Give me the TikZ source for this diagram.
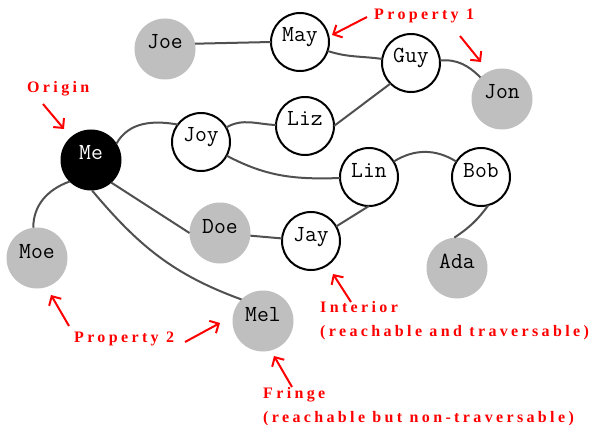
\documentclass[tikz,border=0pt]{standalone}
\usepackage{fontspec}
\usetikzlibrary{arrows.meta}
\newfontfamily\notefont[LetterSpace=21]{Liberation Serif}
\definecolor{fringegray}{RGB}{191,191,191}
\definecolor{linkgray}{RGB}{80,80,80}
\definecolor{notered}{RGB}{255,0,0}
\begin{document}
\begin{tikzpicture}[x=1pt,y=-1pt,
  person/.style={circle, inner sep=0pt, outer sep=0pt,
    text height=7pt, text depth=7pt,
    font=\ttfamily\fontsize{23}{23}\selectfont},
  interior/.style={person, draw=black, line width=2pt, fill=white, minimum size=58pt},
  fringe/.style={person, fill=fringegray, minimum size=61pt},
  origin/.style={person, fill=black, text=white, minimum size=61pt},
  link/.style={draw=linkgray, line width=2pt},
  note/.style={text=notered, font=\notefont\bfseries\fontsize{16}{24}\selectfont,
    align=left, inner sep=0pt, anchor=base west},
  pointer/.style={draw=notered, line width=2pt,
    -{Straight Barb[length=7pt,width=14pt]}}
]
\useasboundingbox (0,0) rectangle (589,425);

% people
\node[fringe]   (joe) at (165,49)  {Joe};
\node[interior] (may) at (300,42)  {May};
\node[interior] (guy) at (411,63)  {Guy};
\node[fringe]   (jon) at (502,99)  {Jon};
\node[origin]   (me)  at (91,160)  {Me};
\node[interior] (joy) at (201,142) {Joy};
\node[interior] (liz) at (305,126) {Liz};
\node[interior] (lin) at (369,177) {Lin};
\node[interior] (bob) at (481,177) {Bob};
\node[fringe]   (doe) at (220,233) {Doe};
\node[interior] (jay) at (311,241) {Jay};
\node[fringe]   (moe) at (37,258)  {Moe};
\node[fringe]   (ada) at (457,268) {Ada};
\node[fringe]   (mel) at (263,321) {Mel};

% links
\draw[link] (joe.10) -- (may.west);
\draw[link] (may) to[out=-18, in=172] (guy);
\draw[link] (guy) to[out=5, in=135] (jon);
\draw[link] (liz.east) -- (guy.225);
\draw[link] (me.33) to[out=60, in=170] (joy.143);
\draw[link] (joy) to[out=30, in=178] (liz);
\draw[link] (joy) to[out=-28, in=182] (lin);
\draw[link] (lin) to[out=32, in=148] (bob);
\draw[link] (bob.-75) to[bend left=10] (ada.95);
\draw[link] (lin.south) -- (jay.30);
\draw[link] (doe) -- (jay);
\draw[link] (me.-48) -- (doe.west);
\draw[link] (me.-88) to[out=-50, in=160] (mel.135);
\draw[link] (me.-135) to[out=200, in=90] (moe.97);

% annotations
\node[note] (origin)   at (27,93)  {Origin};
\node[note] (prop1)    at (374,20) {Property 1};
\node[note] (prop2)    at (74,342) {Property 2};
\node[note] (interior) at (320,336) {Interior\\(reachable and traversable)};
\node[note] (fringelb) at (263,422) {Fringe\\(reachable but non-traversable)};

\coordinate (o1) at (43,104);   \coordinate (o2) at (64,129);
\coordinate (a1) at (367,17);   \coordinate (a2) at (332,35);
\coordinate (b1) at (460,36);   \coordinate (b2) at (481,62);
\coordinate (c1) at (69,326);   \coordinate (c2) at (51,295);
\coordinate (d1) at (185,342);  \coordinate (d2) at (220,323);
\coordinate (e1) at (351,302);  \coordinate (e2) at (333,274);
\coordinate (f1) at (292,387);  \coordinate (f2) at (274,356);

\draw[pointer] (o1) -- (o2);
\draw[pointer] (a1) -- (a2);
\draw[pointer] (b1) -- (b2);
\draw[pointer] (c1) -- (c2);
\draw[pointer] (d1) -- (d2);
\draw[pointer] (e1) -- (e2);
\draw[pointer] (f1) -- (f2);
\end{tikzpicture}
\end{document}
